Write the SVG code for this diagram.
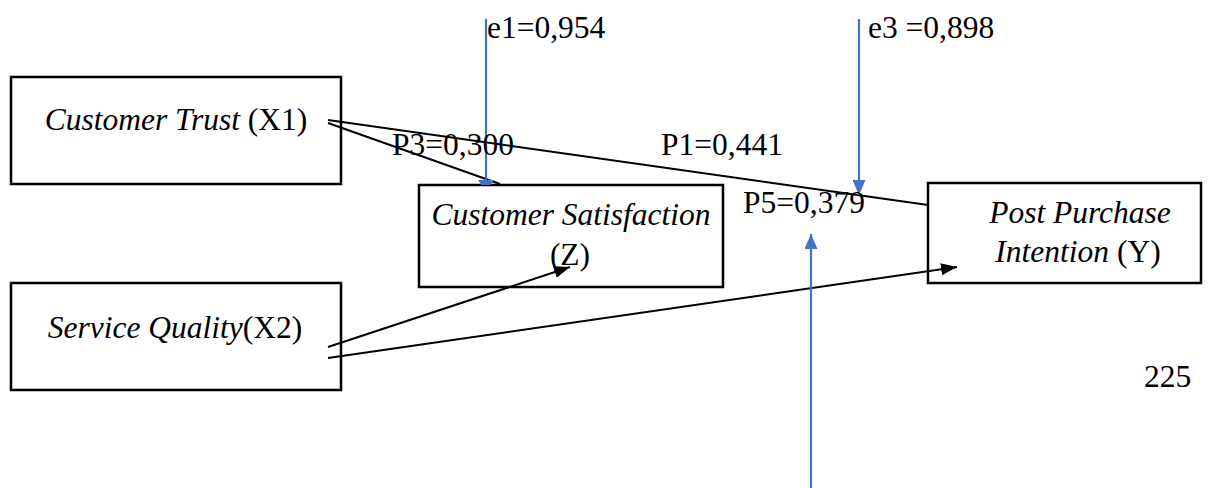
<svg xmlns="http://www.w3.org/2000/svg" width="1232" height="488" viewBox="0 0 1232 488">
<style>
text{font-family:'Liberation Serif','Times New Roman','DejaVu Serif',serif;font-size:31.5px;fill:#000}
.it{font-style:italic}
.box{fill:#fff;stroke:#000;stroke-width:2.5}
.ln{stroke:#000;stroke-width:2;fill:none}
.bl{stroke:#4472C4;stroke-width:2.2;fill:none}
</style>
<defs>
<marker id="ab" markerUnits="userSpaceOnUse" viewBox="0 0 15 13" markerWidth="15" markerHeight="13" refX="15" refY="6.5" orient="auto"><path d="M0,0 L15,6.5 L0,13 z" fill="#4472C4"/></marker>
<marker id="ak" markerUnits="userSpaceOnUse" viewBox="0 0 16 12" markerWidth="16" markerHeight="12" refX="16" refY="6" orient="auto"><path d="M0,0 L16,6 L0,12 z" fill="#000"/></marker>
</defs>
<g id="nodes">
<g id="x1"><rect class="box" x="11" y="77" width="330" height="107"/><text x="176" y="130" text-anchor="middle"><tspan class="it">Customer Trust</tspan> (X1)</text></g>
<g id="x2"><rect class="box" x="11" y="283" width="330" height="107"/><text x="175" y="338" text-anchor="middle"><tspan class="it">Service Quality</tspan>(X2)</text></g>
<g id="z"><rect class="box" x="419" y="185" width="304" height="102"/><text x="571" y="225" text-anchor="middle" class="it">Customer Satisfaction</text><text x="570" y="265" text-anchor="middle">(Z)</text></g>
<g id="y"><rect class="box" x="928" y="183" width="273" height="100"/><text x="1080" y="223" text-anchor="middle" class="it">Post Purchase</text><text x="1078" y="262" text-anchor="middle"><tspan class="it">Intention</tspan> (Y)</text></g>
</g>
<g id="connectors">
<line class="ln" x1="328" y1="120" x2="928" y2="205"/>
<line class="ln" x1="328" y1="123" x2="500" y2="184"/>
<line class="ln" x1="328" y1="347" x2="570" y2="267" marker-end="url(#ak)"/>
<line class="ln" x1="328" y1="358" x2="957" y2="267" marker-end="url(#ak)"/>
<line class="bl" x1="486" y1="19" x2="486" y2="180"/>
<polygon points="478,180 494,180 490.5,185 481.5,185" fill="#4472C4"/>
<line class="bl" x1="859" y1="19" x2="859" y2="195" marker-end="url(#ab)"/>
<line class="bl" x1="811" y1="488" x2="811" y2="234" marker-end="url(#ab)"/>
</g>
<g id="labels">
<text x="487" y="38">e1=0,954</text>
<text x="868" y="38">e3 =0,898</text>
<text x="392" y="155">P3=0,300</text>
<text x="661" y="155">P1=0,441</text>
<text x="743" y="213">P5=0,379</text>
<text x="1144" y="387">225</text>
</g>
</svg>
